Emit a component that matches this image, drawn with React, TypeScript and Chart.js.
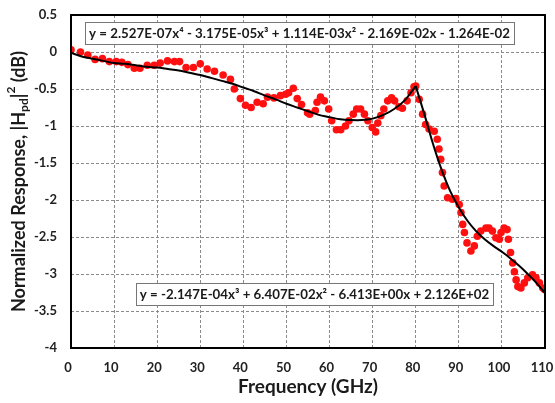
import React, { useEffect, useRef } from 'react';
import { Chart, registerables } from 'chart.js';

Chart.register(...registerables);

// Measured normalized response (red dots)
const measuredFreq = [
  0, 2.2, 3.9, 5.6, 7.3, 8.9, 10.5, 11.8, 13.2, 14.7, 16.0, 17.7, 19.3, 20.7, 22.4, 24.0, 25.2, 26.7, 28.4, 30.0,
  31.6, 33.3, 35.3, 37.0, 37.9, 39.3, 40.5, 41.8, 43.2, 44.6, 45.6, 47.1, 48.6, 49.8, 50.5, 51.6, 52.5, 53.5, 54.9, 55.4,
  56.7, 57.1, 57.9, 58.8, 59.8, 60.5, 61.6, 62.6, 63.7, 64.5, 65.5, 66.3, 67.2, 68.1, 68.9, 69.9, 70.7, 71.2, 71.9, 72.6,
  73.5, 74.4, 75.1, 76.1, 76.9, 78.0, 78.9, 79.6, 80.0, 80.8, 81.6, 82.3, 83.1, 84.3, 85.0, 85.4, 85.8, 86.2, 86.6, 87.4,
  88.5, 89.3, 90.1, 90.5, 90.9, 91.3, 91.9, 92.8, 93.6, 94.3, 95.1, 96.3, 97.0, 97.8, 98.6, 99.4, 99.8, 100.5, 101.2, 101.5,
  102.0, 102.5, 102.9, 103.3, 103.7, 104.4, 105.2, 106.0, 107.1, 107.9, 108.7, 109.5, 109.9,
];
const measuredResp = [
  0.03, 0.0, -0.04, -0.10, -0.09, -0.13, -0.13, -0.14, -0.17, -0.22, -0.22, -0.18, -0.18, -0.15, -0.12, -0.13, -0.13, -0.21, -0.21, -0.16,
  -0.23, -0.26, -0.31, -0.37, -0.50, -0.63, -0.72, -0.75, -0.68, -0.70, -0.61, -0.62, -0.59, -0.57, -0.55, -0.49, -0.63, -0.71, -0.82, -0.84,
  -0.79, -0.68, -0.61, -0.66, -0.77, -0.93, -1.05, -1.05, -1.00, -0.93, -0.84, -0.77, -0.77, -0.84, -0.93, -1.02, -1.08, -0.96, -0.86, -0.77,
  -0.66, -0.62, -0.66, -0.74, -0.76, -0.66, -0.55, -0.47, -0.46, -0.64, -0.84, -0.98, -1.04, -1.07, -1.18, -1.31, -1.45, -1.63, -1.81, -1.97,
  -1.99, -1.98, -2.06, -2.17, -2.33, -2.44, -2.58, -2.69, -2.62, -2.49, -2.42, -2.38, -2.38, -2.42, -2.51, -2.53, -2.44, -2.38, -2.40, -2.53,
  -2.71, -2.85, -2.97, -3.08, -3.17, -3.19, -3.12, -3.05, -3.01, -3.05, -3.12, -3.19, -3.21,
];

// Fitted trend lines (black)
const fitLowFreq = [0, 2.5, 5, 7.5, 10, 12.5, 15, 17.5, 20, 22.5, 25, 27.5, 30, 32.5, 35, 37.5, 40, 42.5, 45, 47.5, 50, 52.5, 55, 57.5, 60, 62.5, 65, 67.5, 70, 72.5, 75, 77.5, 80];
const fitLowResp = [-0.01, -0.06, -0.09, -0.12, -0.15, -0.16, -0.18, -0.2, -0.21, -0.23, -0.25, -0.28, -0.31, -0.35, -0.39, -0.43, -0.48, -0.53, -0.59, -0.64, -0.7, -0.75, -0.8, -0.85, -0.88, -0.91, -0.92, -0.92, -0.9, -0.85, -0.77, -0.65, -0.46];
const fitHighFreq = [80, 82, 84, 86, 88, 90, 92, 94, 96, 98, 100, 102, 104, 106, 108, 110];
const fitHighResp = [-0.46, -0.84, -1.24, -1.59, -1.88, -2.1, -2.28, -2.42, -2.53, -2.62, -2.7, -2.79, -2.89, -3.0, -3.12, -3.26];

const xTicks = [0, 10, 20, 30, 40, 50, 60, 70, 80, 90, 100, 110];
const xTickLabels = ['0', '10', '20', '30', '40', '50', '60', '70', '80', '90', '100', '110'];
const yTicks = [0.5, 0, -0.5, -1, -1.5, -2, -2.5, -3, -3.5, -4];
const yTickLabels = ['0.5', '0', '-0.5', '-1', '-1.5', '-2', '-2.5', '-3', '-3.5', '-4'];

const eqLow = 'y = 2.527E-07x⁴ - 3.175E-05x³ + 1.114E-03x² - 2.169E-02x - 1.264E-02';
const eqHigh = 'y = -2.147E-04x³ + 6.407E-02x² - 6.413E+00x + 2.126E+02';
const xTitle = 'Frequency (GHz)';
const yTitleParts = [
  { text: 'Normalized Response, |H', small: false, shift: 0 },
  { text: 'pd', small: true, shift: 5 },
  { text: '|', small: false, shift: 0 },
  { text: '2', small: true, shift: -8 },
  { text: ' (dB)', small: false, shift: 0 },
];

const FONT = 'Lato, "Open Sans", "DejaVu Sans", sans-serif';

const decorPlugin = {
  id: 'decor',
  afterDatasetsDraw(chart: any) {
    const { ctx, chartArea } = chart;
    const { left, right, top, bottom } = chartArea;
    ctx.save();
    // plot frame
    ctx.strokeStyle = '#000';
    ctx.lineWidth = 2;
    ctx.setLineDash([]);
    ctx.strokeRect(left, top, right - left, bottom - top);

    // equation boxes
    const drawBox = (text: string, cx: number, cy: number) => {
      ctx.font = `bold 13.3px ${FONT}`;
      const w = ctx.measureText(text).width;
      const bw = w + 8;
      const bh = 22;
      ctx.fillStyle = '#fff';
      ctx.fillRect(cx - bw / 2, cy - bh / 2, bw, bh);
      ctx.strokeStyle = '#777';
      ctx.lineWidth = 1;
      ctx.strokeRect(Math.round(cx - bw / 2) + 0.5, Math.round(cy - bh / 2) + 0.5, Math.round(bw), bh);
      ctx.fillStyle = '#1a1a1a';
      ctx.textAlign = 'center';
      ctx.textBaseline = 'middle';
      ctx.fillText(text, cx, cy + 1);
    };
    drawBox(eqLow, 299.5, 33);
    drawBox(eqHigh, 314.5, 294);

    // x title
    ctx.font = `bold 19px ${FONT}`;
    ctx.fillStyle = '#1a1a1a';
    ctx.textAlign = 'center';
    ctx.textBaseline = 'middle';
    ctx.fillText(xTitle, (left + right) / 2, 387);

    // y title with sub/superscripts
    const big = `bold 18px ${FONT}`;
    const small = `bold 12px ${FONT}`;
    let total = 0;
    for (const p of yTitleParts) {
      ctx.font = p.small ? small : big;
      total += ctx.measureText(p.text).width;
    }
    ctx.translate(19, (top + bottom) / 2);
    ctx.rotate(-Math.PI / 2);
    ctx.textAlign = 'left';
    let x = -total / 2;
    for (const p of yTitleParts) {
      ctx.font = p.small ? small : big;
      ctx.fillText(p.text, x, p.shift);
      x += ctx.measureText(p.text).width;
    }
    ctx.restore();
  },
};

export default function App() {
  const canvasRef = useRef<HTMLCanvasElement | null>(null);

  useEffect(() => {
    document.body.style.margin = '0';
    const canvas = canvasRef.current;
    if (!canvas) return;
    const chart = new Chart(canvas, {
      type: 'scatter',
      data: {
        datasets: [
          {
            type: 'line',
            label: 'fit low',
            data: fitLowFreq.map((f, i) => ({ x: f, y: fitLowResp[i] })),
            borderColor: '#000',
            borderWidth: 2,
            pointRadius: 0,
            tension: 0.3,
            fill: false,
            order: 0,
          },
          {
            type: 'line',
            label: 'fit high',
            data: fitHighFreq.map((f, i) => ({ x: f, y: fitHighResp[i] })),
            borderColor: '#000',
            borderWidth: 2,
            pointRadius: 0,
            tension: 0.3,
            fill: false,
            order: 1,
          },
          {
            type: 'scatter',
            label: 'measured',
            data: measuredFreq.map((f, i) => ({ x: f, y: measuredResp[i] })),
            backgroundColor: '#ff1010',
            borderWidth: 0,
            pointRadius: 3.8,
            order: 2,
          },
        ],
      },
      options: {
        responsive: false,
        animation: false,
        devicePixelRatio: 1,
        layout: { padding: { left: 0, right: 10, top: 15, bottom: 0 } },
        plugins: { legend: { display: false }, tooltip: { enabled: false }, title: { display: false } },
        scales: {
          x: {
            type: 'linear',
            min: 0,
            max: 110,
            afterBuildTicks: (s: any) => { s.ticks = xTicks.map((v) => ({ value: v })); },
            afterFit: (s: any) => { s.height = 55; s.paddingLeft = 0; s.paddingRight = 0; },
            ticks: {
              callback: (v: any) => xTickLabels[xTicks.indexOf(Number(v))] ?? '',
              font: { family: FONT, size: 13, weight: 'bold' },
              color: '#222',
              padding: 12,
              labelOffset: -3,
              maxRotation: 0,
            },
            grid: { color: '#8a8a8a', lineWidth: 1, drawTicks: false },
            border: { display: false, dash: [3, 2] },
          },
          y: {
            type: 'linear',
            min: -4,
            max: 0.5,
            afterBuildTicks: (s: any) => { s.ticks = yTicks.map((v) => ({ value: v })); },
            afterFit: (s: any) => { s.width = 71; s.paddingTop = 0; s.paddingBottom = 0; },
            ticks: {
              callback: (v: any) => yTickLabels[yTicks.indexOf(Number(v))] ?? '',
              font: { family: FONT, size: 13, weight: 'bold' },
              color: '#222',
              padding: 14,
            },
            grid: { color: '#8a8a8a', lineWidth: 1, drawTicks: false },
            border: { display: false, dash: [3, 2] },
          },
        },
      },
      plugins: [decorPlugin],
    } as any);
    return () => chart.destroy();
  }, []);

  return (
    <div style={{ position: 'absolute', left: 0, top: 0, width: 555, height: 403, background: '#fff' }}>
      <canvas ref={canvasRef} width={555} height={403} />
    </div>
  );
}
